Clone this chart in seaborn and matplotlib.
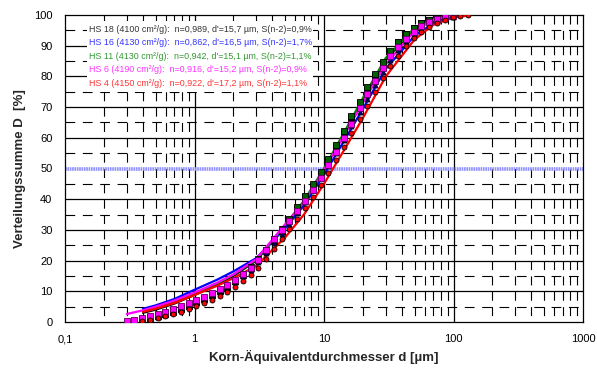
import numpy as np
import pandas as pd
import matplotlib
matplotlib.use("Agg")
import matplotlib.pyplot as plt
import matplotlib.ticker as mticker
from matplotlib.patches import Rectangle
import seaborn as sns

sns.set_style("white")
plt.rcParams['font.family'] = ['Liberation Sans', 'DejaVu Sans']
plt.rcParams['lines.scale_dashes'] = False

nan = np.nan
# measured size classes [µm]
d_bins = [0.30, 0.34, 0.39, 0.45, 0.52, 0.59, 0.68, 0.78, 0.90, 1.03,
          1.18, 1.36, 1.56, 1.79, 2.05, 2.36, 2.71, 3.11, 3.57, 4.10,
          4.71, 5.41, 6.21, 7.13, 8.19, 9.40, 10.8, 12.4, 14.2, 16.3,
          18.8, 21.5, 24.7, 28.4, 32.6, 37.4, 43.0, 49.3, 56.6, 65.0,
          74.6, 85.7, 98.4, 113, 130]

hs18_pts = [nan, nan, 0.8, 1.3, 1.9, 2.6, 3.4, 4.3, 5.3, 6.4,
            7.5, 8.7, 10.0, 11.5, 13.2, 15.2, 17.5, 20.2, 23.2, 26.5,
            29.8, 33.2, 36.8, 40.5, 44.3, 48.3, 52.5, 57.0, 61.8, 66.5,
            71.3, 76.0, 80.5, 84.5, 88.0, 91.2, 93.8, 95.8, 97.3, 98.4,
            99.1, 99.5, nan, nan, nan]
hs16_pts = [nan, nan, 0.6, 1.1, 1.7, 2.4, 3.2, 4.1, 5.1, 6.2,
            7.3, 8.5, 9.8, 11.3, 13.0, 14.9, 17.0, 19.5, 22.4, 25.6,
            28.8, 32.0, 35.5, 39.2, 43.0, 46.8, 50.8, 55.0, 59.3, 63.8,
            68.3, 72.8, 77.2, 81.5, 85.3, 88.6, 91.5, 93.8, 95.6, 97.0,
            98.1, 98.9, 99.4, nan, nan]
hs11_pts = [nan, nan, 0.9, 1.5, 2.2, 2.9, 3.7, 4.6, 5.6, 6.7,
            7.8, 9.0, 10.3, 11.8, 13.5, 15.5, 17.8, 20.5, 23.6, 27.0,
            30.3, 33.7, 37.3, 41.0, 44.8, 48.8, 53.0, 57.5, 62.3, 67.0,
            71.8, 76.4, 80.8, 84.8, 88.2, 91.3, 93.8, 95.8, 97.3, 98.3,
            99.0, 99.5, nan, nan, nan]
hs6_pts = [0.4, 0.7, 1.2, 2.0, 2.7, 3.4, 4.3, 5.2, 6.2, 7.3,
           8.3, 9.4, 10.6, 12.0, 13.6, 15.5, 17.7, 20.3, 23.5, 27.0,
           30.0, 33.0, 36.2, 39.5, 43.0, 47.0, 51.0, 55.5, 60.0, 64.5,
           69.8, 74.3, 78.5, 82.8, 86.5, 89.5, 92.3, 94.5, 96.3, 97.8,
           98.8, 99.3, 99.6, nan, nan]
hs4_pts = [nan, nan, 0.3, 0.7, 1.2, 1.8, 2.5, 3.3, 4.2, 5.2,
           6.2, 7.3, 8.5, 9.9, 11.4, 13.2, 15.2, 17.6, 20.4, 23.8,
           27.0, 30.2, 33.5, 37.0, 40.8, 44.5, 48.5, 52.8, 57.0, 61.5,
           66.0, 70.5, 75.0, 79.5, 83.5, 86.8, 89.8, 92.5, 94.5, 96.2,
           97.5, 98.5, 99.2, 99.6, 99.9]

# fitted RRSB lines
d_fit = [0.3, 0.4, 0.5, 0.7, 1, 1.5, 2, 3, 5, 7, 10, 15, 20, 30, 50, 70, 100, 130]
hs18_fit = [nan, 3.0, 4.0, 6.0, 8.8, 12.2, 15.0, 20.0, 31.2, 39.0, 49.5, 63.0, 72.5, 85.5, 95.5, 98.6, 99.7, nan]
hs16_fit = [nan, 4.3, 5.4, 7.5, 10.5, 13.8, 16.5, 20.8, 30.5, 38.0, 48.0, 60.5, 69.5, 82.5, 93.2, 97.3, 99.2, nan]
hs11_fit = [nan, 3.5, 4.5, 6.5, 9.3, 12.6, 15.4, 20.3, 31.5, 39.5, 50.0, 63.3, 73.0, 86.0, 95.8, 98.8, 99.8, nan]
hs6_fit = [2.6, 3.8, 5.0, 7.0, 9.6, 12.8, 15.5, 20.5, 31.8, 39.0, 49.5, 62.3, 71.5, 84.0, 94.8, 98.4, 99.7, nan]
hs4_fit = [nan, 3.3, 4.3, 6.2, 8.8, 11.8, 14.3, 18.3, 27.5, 35.0, 45.0, 57.5, 66.5, 80.0, 92.0, 96.8, 99.2, 99.8]

legend_texts = [
    "HS 18 (4100 cm²/g):  n=0,989, d'=15,7 µm, S(n-2)=0,9%",
    "HS 16 (4130 cm²/g):  n=0,862, d'=16,5 µm, S(n-2)=1,7%",
    "HS 11 (4130 cm²/g):  n=0,942, d'=15,1 µm, S(n-2)=1,1%",
    "HS 6 (4190 cm²/g):  n=0,916, d'=15,2 µm, S(n-2)=0,9%",
    "HS 4 (4150 cm²/g):  n=0,922, d'=17,2 µm, S(n-2)=1,1%",
]
legend_colors = ["#333333", "#3333ff", "#339933", "#ff33ff", "#ff3333"]

x_ticks = [0.1, 1, 10, 100, 1000]
x_ticklabels = ["0,1", "1", "10", "100", "1000"]
y_ticks = list(range(0, 101, 10))

series = [
    ("HS 18", hs18_pts, hs18_fit, "#000000", "s", "#000000", "#000000"),
    ("HS 16", hs16_pts, hs16_fit, "#0000ff", "^", "#000080", "#000000"),
    ("HS 11", hs11_pts, hs11_fit, "#008000", "s", "#006000", "#000000"),
    ("HS 6", hs6_pts, hs6_fit, "#ff00ff", "s", "#ff00ff", "#600060"),
    ("HS 4", hs4_pts, hs4_fit, "#ff0000", "o", "#ff0000", "#000000"),
]

fig = plt.figure(figsize=(5.97, 3.70), dpi=100)
ax = fig.add_axes([65/597, 48/370, 518/597, 307/370])
ax.set_xscale("log")
ax.set_xlim(0.1, 1000)
ax.set_ylim(0, 100)

# grid
for dec in [0.1, 1, 10, 100]:
    for k in range(2, 10):
        x = dec * k
        ax.plot([x, x], [100, 0], color="black", lw=0.8, ls=(0, (6.5, 4.55)), zorder=1)
for x in [1, 10, 100]:
    ax.plot([x, x], [0, 100], color="black", lw=0.9, zorder=1)
for y in range(10, 100, 10):
    if y == 50:
        continue
    ax.plot([0.1, 1000], [y, y], color="black", lw=0.9, zorder=1)
for y in range(5, 100, 10):
    ax.plot([0.1, 1000], [y, y], color="black", lw=0.8, ls=(0, (7, 5.5)), zorder=1)
ax.plot([0.1, 1000], [50, 50], color="#9090ff", lw=2.6, ls=(0, (1.2, 0.5)), zorder=2)

# legend text block with white background
ax.add_patch(Rectangle((22/518, 1 - (92 - 15)/307), (313 - 87)/518, (92 - 21)/307,
                       transform=ax.transAxes, facecolor="white", edgecolor="none", zorder=3))
for i, (t, c) in enumerate(zip(legend_texts, legend_colors)):
    ax.text((89 - 65)/518, 1 - (29 - 15 + i*13.6)/307, t, transform=ax.transAxes,
            color=c, fontsize=6.4, va="center", ha="left", zorder=4)

for name, pts, fit, lc, mk, mfc, mec in series:
    dfl = pd.DataFrame({"d": d_fit, "D": fit}).dropna()
    sns.lineplot(data=dfl, x="d", y="D", ax=ax, color=lc, lw=1.6, zorder=5,
                 estimator=None, sort=True)
for name, pts, fit, lc, mk, mfc, mec in series:
    dfp = pd.DataFrame({"d": d_bins, "D": pts}).dropna()
    sns.scatterplot(data=dfp, x="d", y="D", ax=ax, marker=mk, color=mfc,
                    edgecolor=mec, linewidth=0.6, s=13, zorder=6)

ax.set_xticks(x_ticks)
ax.set_xticklabels(x_ticklabels)
ax.xaxis.set_minor_locator(mticker.NullLocator())
ax.set_yticks(y_ticks)
ax.tick_params(axis="both", direction="out", length=3, width=0.8, labelsize=8, colors="black")
ax.tick_params(axis="x", pad=6)
ax.tick_params(axis="y", pad=6)
ax.set_xlabel("Korn-Äquivalentdurchmesser d [µm]", fontsize=9.5, fontweight="bold", labelpad=4)
ax.set_ylabel("Verteilungssumme D  [%]", fontsize=9.5, fontweight="bold", labelpad=6)
for s in ax.spines.values():
    s.set_color("black")
    s.set_linewidth(0.9)
    s.set_visible(True)
ax.set_facecolor("white")
fig.savefig("out.png", dpi=100, facecolor="white")
